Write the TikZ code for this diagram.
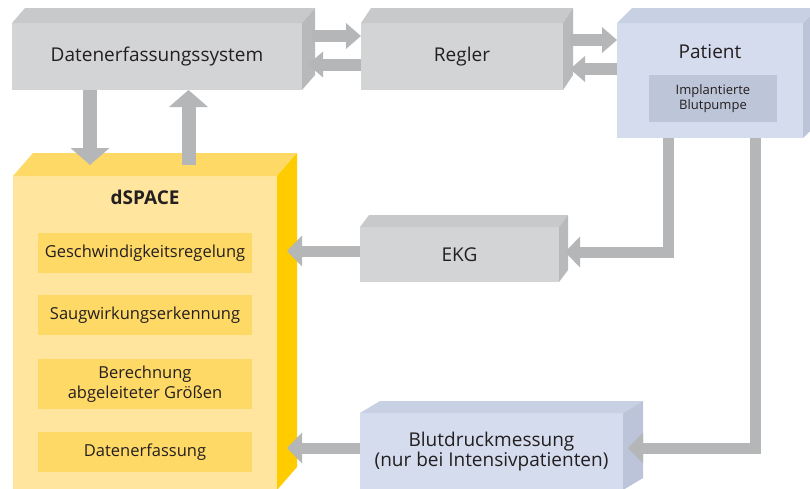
\documentclass[tikz,border=0pt]{standalone}
\usepackage{fontspec}
\setmainfont{Open Sans}
\usetikzlibrary{arrows.meta,calc}
\definecolor{textDunkel}{HTML}{231F20}
\definecolor{grauFront}{HTML}{D3D4D6}
\definecolor{grauOben}{HTML}{C8C9CB}
\definecolor{grauSeite}{HTML}{B8B9BB}
\definecolor{blauFront}{HTML}{D5DCEE}
\definecolor{blauOben}{HTML}{C8D0E4}
\definecolor{blauSeite}{HTML}{BCC4D9}
\definecolor{blauInnen}{HTML}{BDC5D8}
\definecolor{gelbFront}{HTML}{FFE59E}
\definecolor{gelbOben}{HTML}{FFD966}
\definecolor{gelbSeite}{HTML}{FFCC00}
\definecolor{gelbInnen}{HTML}{FFD966}
\definecolor{pfeilGrau}{HTML}{B5B6B8}
\newcommand{\schriftGross}{\fontsize{19}{20.5}\selectfont}
\newcommand{\schriftMittel}{\fontsize{16.5}{19.5}\selectfont}
\newcommand{\schriftKlein}{\fontsize{13}{14.5}\selectfont}
% Deckel und Seitenwand eines Quaders: Name, dx, dy, Farbe oben, Farbe Seite
\newcommand{\quader}[5]{%
  \fill[#4] (#1.north west) -- ++(#2,-#3) -- ($(#1.north east)+(#2,-#3)$) -- (#1.north east) -- cycle;
  \fill[#5] (#1.north east) -- ++(#2,-#3) -- ($(#1.south east)+(#2,-#3)$) -- (#1.south east) -- cycle;}

\begin{document}
\begin{tikzpicture}[x=1pt,y=-1pt,
  box/.style={inner sep=0pt,outer sep=0pt,text=textDunkel,align=center,font=\schriftGross},
  grauBox/.style={box,fill=grauFront},
  blauBox/.style={box,fill=blauFront},
  gelbBox/.style={box,fill=gelbFront},
  modul/.style={box,fill=gelbInnen,font=\schriftMittel,minimum width=214pt,minimum height=40pt},
  pfeil/.style={pfeilGrau,line width=11pt,line join=miter,-{Triangle[width=30pt,length=15pt]}},
  pfeilKlein/.style={pfeil,line width=12pt,-{Triangle[width=25pt,length=15pt]}},
  pfeilGross/.style={pfeil,line width=14pt,-{Triangle[width=38pt,length=17pt]}}]
\useasboundingbox (0,0) rectangle (810,488);
\fill[white] (0,0) rectangle (810,488);
\clip (0,0) rectangle (810,488);

% obere Reihe
\node[grauBox,minimum width=290pt,minimum height=67pt] (des) at (157,56.5) {Datenerfassungssystem};
\quader{des}{13}{15}{grauOben}{grauSeite}
\node[grauBox,minimum width=202pt,minimum height=67pt] (regler) at (462,56.5) {Regler};
\quader{regler}{10}{15}{grauOben}{grauSeite}
\node[blauBox,minimum width=186pt,minimum height=115pt,
  label={[box,anchor=center,yshift=-29pt]north:Patient}] (patient) at (710,80.5) {};
\quader{patient}{15}{15}{blauOben}{blauSeite}
\node[box,fill=blauInnen,font=\schriftKlein,minimum width=128pt,minimum height=47pt] (pumpe) at (713,98.5) {Implantierte\\Blutpumpe};

% dSPACE
\node[gelbBox,minimum width=264pt,minimum height=314pt,
  label={[box,anchor=center,yshift=-21pt,font=\schriftGross\bfseries]north:dSPACE}] (dspace) at (145,333) {};
\quader{dspace}{20}{23}{gelbOben}{gelbSeite}
\node[modul] (regelung) at (145,253) {Geschwindigkeitsregelung};
\node[modul] (saug) at (145,315) {Saugwirkungserkennung};
\node[modul,minimum height=50pt] (berechnung) at (145,384) {Berechnung\\abgeleiteter Größen};
\node[modul] (erfassung) at (145,452) {Datenerfassung};

% Messung
\node[grauBox,minimum width=199pt,minimum height=55pt] (ekg) at (459.5,254.5) {EKG};
\quader{ekg}{9}{12}{grauOben}{grauSeite}
\node[blauBox,minimum width=263pt,minimum height=77pt] (blut) at (491.5,451.5) {Blutdruckmessung\\(nur bei Intensivpatienten)};
\quader{blut}{20}{12}{blauOben}{blauSeite}

% Pfeile
\draw[pfeilGross] ($(des.south west)+(78,0)$) -- ($(des.south west |- dspace.north)+(78,-11)$);
\draw[pfeilGross] ($(des.south west |- dspace.north)+(176.5,-11)$) -- ($(des.south west)+(176.5,0)$);
\draw[pfeilKlein] ($(des.north east)+(10,13)$) -- ($(regler.north west)+(0,13)$);
\draw[pfeilKlein] ($(regler.north west)+(0,41.5)$) -- ($(des.north east)+(6,41.5)$);
\draw[pfeilKlein] ($(regler.north east)+(7,17)$) -- ($(patient.north west)+(0,17)$);
\draw[pfeilKlein] ($(patient.north west)+(0,46)$) -- ($(regler.north east)+(7,46)$);
\draw[pfeil] ($(patient.south west)+(51,0)$) |- ($(ekg.east)+(6,-2.5)$);
\draw[pfeil] ($(patient.south west)+(138,0)$) |- ($(blut.east)+(5,-3.5)$);
\draw[pfeil] ($(ekg.west)+(0,-3.5)$) -- ($(ekg.west -| dspace.east)+(10,-3.5)$);
\draw[pfeil] ($(blut.west)+(0,-3.5)$) -- ($(blut.west -| dspace.east)+(10,-3.5)$);
\end{tikzpicture}
\end{document}
